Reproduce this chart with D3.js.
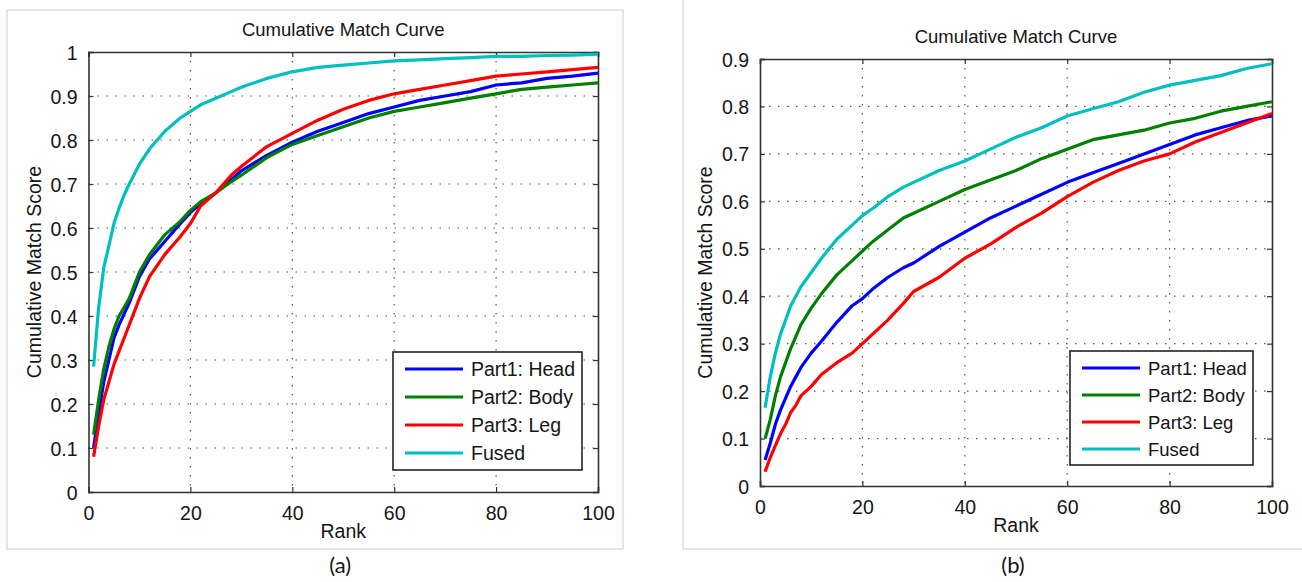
<!DOCTYPE html>
<html>
<head>
<meta charset="utf-8">
<script src="https://cdn.jsdelivr.net/npm/d3@7"></script>
<style>
  html, body { margin: 0; padding: 0; background: #fff; }
  svg { display: block; font-family: "Liberation Sans", Arial, sans-serif; }
</style>
</head>
<body>
<svg id="chart" width="1302" height="582"></svg>
<script>
// ranks sampled from the curves (both panels)
const ranks = [1,2,3,4,5,6,7,8,10,12,15,18,20,22,25,28,30,35,40,45,50,55,60,65,70,75,80,85,90,95,100];

// panel (a)
const headA  = [0.10,0.18,0.25,0.30,0.35,0.38,0.405,0.43,0.49,0.53,0.57,0.61,0.635,0.655,0.68,0.71,0.73,0.765,0.795,0.82,0.84,0.86,0.875,0.89,0.90,0.91,0.925,0.93,0.94,0.945,0.952];
const bodyA  = [0.13,0.21,0.28,0.33,0.37,0.40,0.42,0.44,0.50,0.54,0.585,0.615,0.64,0.66,0.68,0.705,0.72,0.76,0.79,0.81,0.83,0.85,0.865,0.875,0.885,0.895,0.905,0.915,0.92,0.925,0.93];
const legA   = [0.08,0.15,0.21,0.25,0.29,0.32,0.35,0.38,0.44,0.49,0.54,0.58,0.61,0.65,0.68,0.72,0.74,0.785,0.815,0.845,0.87,0.89,0.905,0.915,0.925,0.935,0.945,0.95,0.955,0.96,0.965];
const fusedA = [0.285,0.42,0.51,0.56,0.61,0.645,0.675,0.70,0.745,0.78,0.82,0.85,0.865,0.88,0.895,0.91,0.92,0.94,0.955,0.965,0.97,0.975,0.98,0.982,0.985,0.987,0.99,0.99,0.992,0.993,0.995];

// panel (b)
const headB  = [0.055,0.09,0.13,0.16,0.185,0.21,0.23,0.25,0.28,0.305,0.345,0.38,0.395,0.415,0.44,0.46,0.47,0.505,0.535,0.565,0.59,0.615,0.64,0.66,0.68,0.70,0.72,0.74,0.755,0.77,0.78];
const bodyB  = [0.10,0.14,0.19,0.23,0.26,0.29,0.315,0.34,0.375,0.405,0.445,0.475,0.495,0.515,0.54,0.565,0.575,0.60,0.625,0.645,0.665,0.69,0.71,0.73,0.74,0.75,0.765,0.775,0.79,0.80,0.81];
const legB   = [0.03,0.06,0.085,0.11,0.13,0.155,0.17,0.19,0.21,0.235,0.26,0.28,0.30,0.32,0.35,0.385,0.41,0.44,0.48,0.51,0.545,0.575,0.61,0.64,0.665,0.685,0.70,0.725,0.745,0.765,0.785];
const fusedB = [0.165,0.23,0.28,0.32,0.35,0.38,0.40,0.42,0.45,0.48,0.52,0.55,0.57,0.585,0.61,0.63,0.64,0.665,0.685,0.71,0.735,0.755,0.78,0.795,0.81,0.83,0.845,0.855,0.865,0.88,0.89];

const seriesNames = ["Part1: Head", "Part2: Body", "Part3: Leg", "Fused"];
const seriesColors = ["#0000ff", "#008000", "#ff0000", "#00bfbf"];
const xTicks = [0, 20, 40, 60, 80, 100];
const yTicksA = [0, 0.1, 0.2, 0.3, 0.4, 0.5, 0.6, 0.7, 0.8, 0.9, 1];
const yTicksB = [0, 0.1, 0.2, 0.3, 0.4, 0.5, 0.6, 0.7, 0.8, 0.9];
const titleText = "Cumulative Match Curve";
const xLabel = "Rank";
const yLabel = "Cumulative Match Score";

const svg = d3.select("#chart");
const ink = "#151515";

function drawPanel(p) {
  const g = svg.append("g");

  // light frame around the panel
  g.append("rect")
    .attr("x", p.frame[0]).attr("y", p.frame[1])
    .attr("width", p.frame[2]).attr("height", p.frame[3])
    .attr("fill", "none").attr("stroke", "#d4d4d4").attr("stroke-width", 1.2);

  const x = d3.scaleLinear().domain([0, 100]).range([p.left, p.right]);
  const y = d3.scaleLinear().domain([0, p.yMax]).range([p.bottom, p.top]);

  // dotted grid
  g.append("g").selectAll("line")
    .data(xTicks.slice(1, -1)).enter().append("line")
    .attr("x1", d => x(d)).attr("x2", d => x(d))
    .attr("y1", p.top).attr("y2", p.bottom)
    .attr("stroke", "#555").attr("stroke-width", 1.2)
    .attr("stroke-dasharray", "1.5,7.5");
  g.append("g").selectAll("line")
    .data(p.yTicks.slice(1, -1)).enter().append("line")
    .attr("x1", p.left).attr("x2", p.right)
    .attr("y1", d => y(d)).attr("y2", d => y(d))
    .attr("stroke", "#555").attr("stroke-width", 1.2)
    .attr("stroke-dasharray", "1.5,7.5");

  // axes (ticks pointing inward, MATLAB style)
  const axB = g.append("g").attr("transform", "translate(0," + p.bottom + ")")
    .call(d3.axisBottom(x).tickValues(xTicks).tickSize(-5).tickPadding(14).tickFormat(d3.format("d")));
  const axT = g.append("g").attr("transform", "translate(0," + p.top + ")")
    .call(d3.axisTop(x).tickValues(xTicks).tickSize(-5).tickFormat(""));
  const axL = g.append("g").attr("transform", "translate(" + p.left + ",0)")
    .call(d3.axisLeft(y).tickValues(p.yTicks).tickSize(-5).tickPadding(11).tickFormat(d => d3.format("")(+d.toFixed(1))));
  const axR = g.append("g").attr("transform", "translate(" + p.right + ",0)")
    .call(d3.axisRight(y).tickValues(p.yTicks).tickSize(-5).tickFormat(""));
  [axB, axT, axL, axR].forEach(a => {
    a.select(".domain").attr("stroke", "#333").attr("stroke-width", 1.6);
    a.selectAll(".tick line").attr("stroke", "#333").attr("stroke-width", 1.2);
    a.selectAll("text").attr("font-size", 19.5).attr("fill", ink)
      .attr("font-family", "'Liberation Sans', Arial, sans-serif");
  });
  axB.selectAll("text").attr("dy", "0.71em");
  axL.selectAll("text").attr("dy", "0.36em");

  // curves
  const line = d3.line().x((d, i) => x(ranks[i])).y(d => y(d));
  p.series.forEach((vals, k) => {
    g.append("path").datum(vals)
      .attr("d", line)
      .attr("fill", "none")
      .attr("stroke", seriesColors[k])
      .attr("stroke-width", 3.2)
      .attr("stroke-linejoin", "round");
  });

  // titles
  const cx = (p.left + p.right) / 2;
  g.append("text").attr("x", cx).attr("y", p.top - 16)
    .attr("text-anchor", "middle").attr("font-size", 18.5).attr("fill", ink)
    .text(titleText);
  g.append("text").attr("x", cx).attr("y", p.bottom + 46)
    .attr("text-anchor", "middle").attr("font-size", 19.5).attr("fill", ink)
    .text(xLabel);
  g.append("text")
    .attr("transform", "translate(" + (p.left - 48) + "," + ((p.top + p.bottom) / 2) + ") rotate(-90)")
    .attr("text-anchor", "middle").attr("font-size", 19.5).attr("fill", ink)
    .text(yLabel);
  g.append("text").attr("x", cx - 3).attr("y", 573)
    .attr("text-anchor", "middle").attr("font-size", 22).attr("fill", ink)
    .attr("font-family", "Lato, 'Open Sans', sans-serif")
    .text(p.tag);

  // legend
  const lg = g.append("g").attr("transform", "translate(" + p.legend[0] + "," + p.legend[1] + ")");
  lg.append("rect").attr("width", p.legend[2]).attr("height", p.legend[3])
    .attr("fill", "#fff").attr("stroke", "#222").attr("stroke-width", 1.6);
  seriesNames.forEach((name, k) => {
    const yy = 17 + k * p.legendStep;
    lg.append("line").attr("x1", 12).attr("x2", 70).attr("y1", yy).attr("y2", yy)
      .attr("stroke", seriesColors[k]).attr("stroke-width", 3.2);
    lg.append("text").attr("x", 78).attr("y", yy).attr("dy", "0.36em")
      .attr("font-size", p.legendFont).attr("fill", ink).text(name);
  });
}

drawPanel({
  frame: [7, 10, 616, 539],
  left: 88.5, right: 598, top: 52, bottom: 492,
  yMax: 1, yTicks: yTicksA,
  series: [headA, bodyA, legA, fusedA],
  legend: [393, 352, 189, 118], legendStep: 28, legendFont: 19.5,
  tag: "(a)"
});

drawPanel({
  frame: [683, -5, 700, 554],
  left: 760, right: 1272, top: 59, bottom: 486,
  yMax: 0.9, yTicks: yTicksB,
  series: [headB, bodyB, legB, fusedB],
  legend: [1070, 351, 183, 114], legendStep: 27, legendFont: 18.5,
  tag: "(b)"
});
</script>
</body>
</html>
